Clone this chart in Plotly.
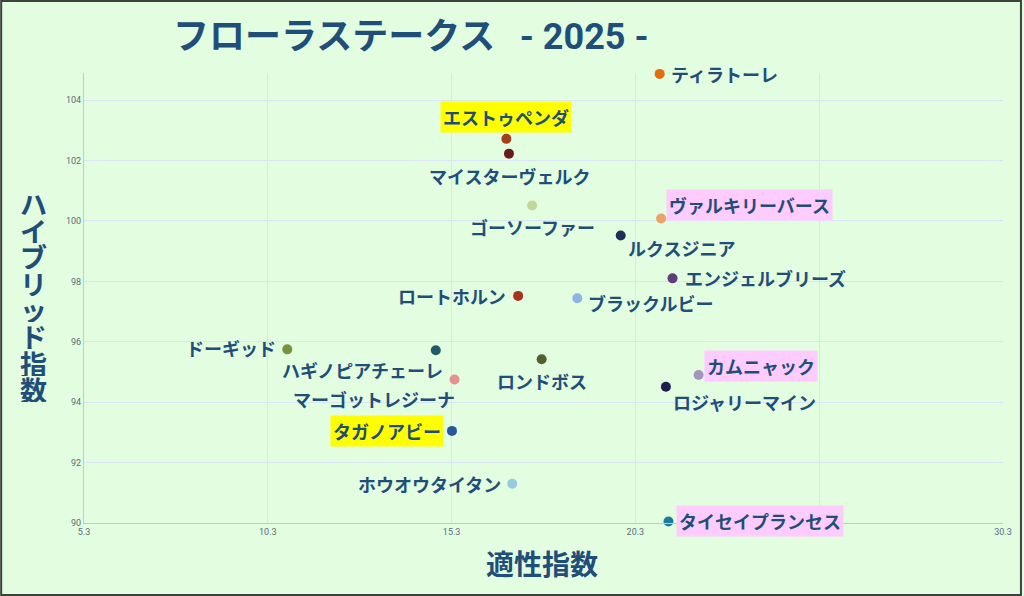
import plotly.graph_objects as go

# データ
horses = ["ティラトーレ", "エストゥペンダ", "マイスターヴェルク", "ゴーソーファー",
          "ヴァルキリーバース", "ルクスジニア", "エンジェルブリーズ", "ロートホルン",
          "ブラックルビー", "ドーギッド", "ハギノピアチェーレ", "ロンドボス",
          "マーゴットレジーナ", "カムニャック", "ロジャリーマイン", "タガノアビー",
          "ホウオウタイタン", "タイセイプランセス"]
tekisei = [20.96, 16.79, 16.86, 17.49, 21.00, 19.90, 21.31, 17.11, 18.72,
           10.83, 14.87, 17.75, 15.38, 22.02, 21.13, 15.31, 16.95, 21.20]
hybrid = [104.87, 102.72, 102.23, 100.51, 100.08, 99.52, 98.10, 97.52, 97.44,
          95.75, 95.72, 95.42, 94.75, 94.90, 94.51, 93.05, 91.30, 90.05]
colors = ["#E46C0A", "#A3401C", "#6B1A1A", "#C3D69B", "#E9A36B", "#1F2D5A",
          "#5F3D7A", "#A8321E", "#8EB4E3", "#77933C", "#215968", "#4F6228",
          "#E6908F", "#A593C0", "#1F1F4F", "#2A56A0", "#93CDDD", "#1E7BA0"]
highlight = {"エストゥペンダ": "#FFFF00", "タガノアビー": "#FFFF00",
             "ヴァルキリーバース": "#FFCCFF", "カムニャック": "#FFCCFF",
             "タイセイプランセス": "#FFCCFF"}

x_ticks = [5.3, 10.3, 15.3, 20.3, 25.3, 30.3]
y_ticks = [90, 92, 94, 96, 98, 100, 102, 104]

# ラベルの置き方 (xanchor, xshift, yshift)
label_pos = {
    "ティラトーレ": ("left", 8, 0),
    "エストゥペンダ": ("center", 0, 22),
    "マイスターヴェルク": ("center", 1, -22),
    "ゴーソーファー": ("center", 0, -21),
    "ヴァルキリーバース": ("left", 5, 14),
    "ルクスジニア": ("left", 4, -13),
    "エンジェルブリーズ": ("left", 9, 0),
    "ロートホルン": ("right", -9, 0),
    "ブラックルビー": ("left", 8, -5),
    "ドーギッド": ("right", -8, 1),
    "ハギノピアチェーレ": ("right", 10, -20),
    "ロンドボス": ("center", 0, -22),
    "マーゴットレジーナ": ("right", 3, -19),
    "カムニャック": ("left", 5, 9),
    "ロジャリーマイン": ("left", 4, -15),
    "タガノアビー": ("right", -8, 0),
    "ホウオウタイタン": ("right", -8, 0),
    "タイセイプランセス": ("left", 8, 0),
}

W, H = 1024, 596
L, R, T, B = 84, 1005, 73, 523

def px(p):
    return (p - L) / (R - L)

def py(p):
    return (B - p) / (B - T)

navy = "#1F4E79"
jp = "Noto Sans CJK JP"

fig = go.Figure()
fig.add_trace(go.Scatter(
    x=tekisei, y=hybrid, mode="markers", cliponaxis=False,
    marker=dict(color=colors, size=10, line=dict(width=0)),
    hoverinfo="skip", showlegend=False,
))

ann = []
for name, xv, yv in zip(horses, tekisei, hybrid):
    anchor, xs, ys = label_pos[name]
    ann.append(dict(
        x=xv, y=yv, xref="x", yref="y", text=name, showarrow=False,
        xanchor=anchor, yanchor="middle", xshift=xs, yshift=ys,
        font=dict(family=jp, size=18, color=navy, weight="bold"),
        bgcolor=highlight.get(name, "rgba(0,0,0,0)"), borderpad=2,
    ))

# タイトル
ann.append(dict(
    x=px(412), y=py(33), xref="paper", yref="paper", showarrow=False,
    text="フローラステークス&nbsp;&nbsp;&nbsp;<span style='font-family:Liberation Sans Narrow, Roboto'>- 2025 -</span>",
    font=dict(family=jp, size=36, color=navy, weight="bold"),
    xanchor="center", yanchor="middle",
))
# x軸タイトル
ann.append(dict(
    x=px(543), y=py(563), xref="paper", yref="paper", showarrow=False,
    text="適性指数", font=dict(family=jp, size=28, color=navy, weight="bold"),
    xanchor="center", yanchor="middle",
))
# y軸タイトル（縦書き）
for i, ch in enumerate("ハイブリッド指数"):
    ann.append(dict(
        x=px(33), y=py(203 + i * 26.6), xref="paper", yref="paper",
        showarrow=False, text=ch, height=26,
        font=dict(family=jp, size=27, color=navy, weight="bold"),
        xanchor="center", yanchor="middle",
    ))

fig.update_layout(
    width=W, height=H,
    margin=dict(l=L, r=W - R, t=T, b=H - B),
    paper_bgcolor="#E3FDE1", plot_bgcolor="#E3FDE1",
    annotations=ann,
    shapes=[dict(type="rect", xref="paper", yref="paper",
                 x0=px(1), x1=px(W - 1), y0=py(H - 1), y1=py(1),
                 line=dict(color="#404040", width=2), layer="above")],
    xaxis=dict(range=[5.3, 30.3], tickvals=x_ticks, ticktext=[str(v) for v in x_ticks],
               showgrid=True, gridcolor="#D9E4F5", gridwidth=1, zeroline=False,
               showline=True, linecolor="#B4CBEA", linewidth=1,
               tickfont=dict(family="Liberation Sans Narrow, Roboto", size=9, color="#5B6B80"),
               ticks="", ticklen=0),
    yaxis=dict(range=[90, 104.9], tickvals=y_ticks,
               showgrid=True, gridcolor="#D9E4F5", gridwidth=1, zeroline=False,
               showline=True, linecolor="#B4CBEA", linewidth=1,
               tickfont=dict(family="Liberation Sans Narrow, Roboto", size=9, color="#5B6B80"),
               ticks="", ticklen=0),
    font=dict(family=jp),
)

fig.write_html("out.html", config={"displayModeBar": False},
               post_script="document.body.style.margin='0';")
